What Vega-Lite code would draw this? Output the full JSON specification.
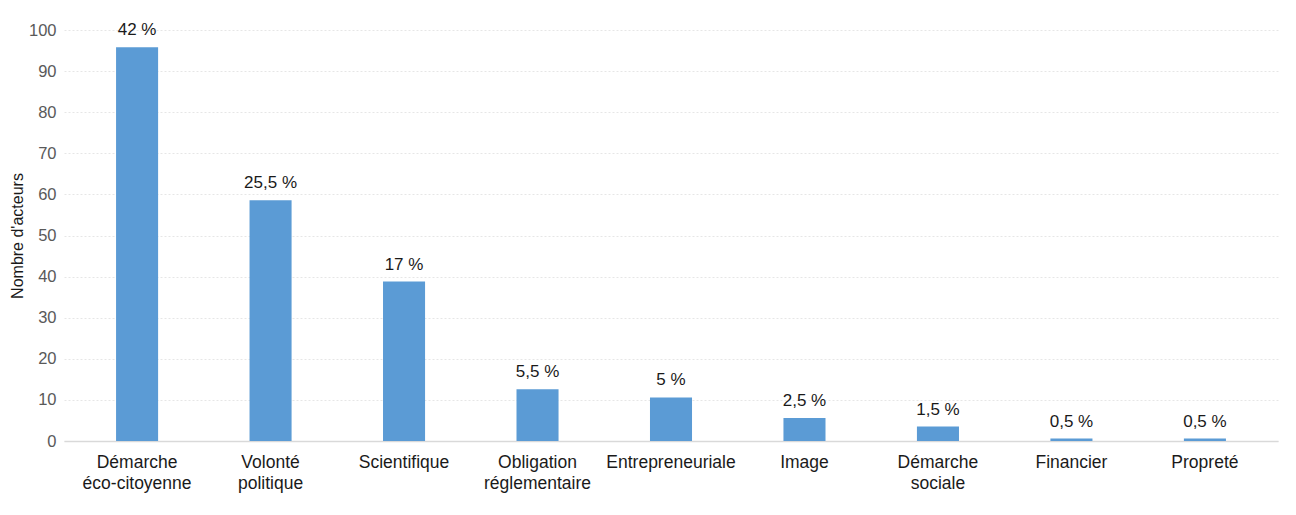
{
  "$schema": "https://vega.github.io/schema/vega-lite/v6.json",
  "autosize": {"type": "none"},
  "padding": {"left": 64, "top": 30, "right": 18, "bottom": 74},
  "width": 1214,
  "height": 411,
  "background": "white",
  "config": {
    "font": "Liberation Sans",
    "view": {"stroke": null}
  },
  "data": {
    "values": [
      {"cat": "Démarche éco-citoyenne", "n": 95.8, "pct": "42 %"},
      {"cat": "Volonté politique", "n": 58.6, "pct": "25,5 %"},
      {"cat": "Scientifique", "n": 38.8, "pct": "17 %"},
      {"cat": "Obligation réglementaire", "n": 12.6, "pct": "5,5 %"},
      {"cat": "Entrepreneuriale", "n": 10.6, "pct": "5 %"},
      {"cat": "Image", "n": 5.6, "pct": "2,5 %"},
      {"cat": "Démarche sociale", "n": 3.5, "pct": "1,5 %"},
      {"cat": "Financier", "n": 0.6, "pct": "0,5 %"},
      {"cat": "Propreté", "n": 0.6, "pct": "0,5 %"}
    ]
  },
  "encoding": {
    "x": {
      "field": "cat",
      "type": "nominal",
      "sort": null,
      "scale": {"paddingInner": 0.685, "paddingOuter": 0.39},
      "axis": {
        "title": null,
        "labelAngle": 0,
        "labelExpr": "split(datum.label, ' ')",
        "labelFontSize": 17.5,
        "labelColor": "#1a1a1a",
        "labelPadding": 12,
        "labelLineHeight": 21,
        "labelBaseline": "top",
        "ticks": false,
        "domainColor": "#d9d9d9",
        "domainWidth": 1.5,
        "grid": false
      }
    },
    "y": {
      "field": "n",
      "type": "quantitative",
      "scale": {"domain": [0, 100], "nice": false},
      "axis": {
        "title": "Nombre d'acteurs",
        "titleFontSize": 16,
        "titleFontWeight": "normal",
        "titleColor": "#1a1a1a",
        "titlePadding": 3,
        "values": [0, 10, 20, 30, 40, 50, 60, 70, 80, 90, 100],
        "labelFontSize": 16.5,
        "labelColor": "#595959",
        "labelPadding": 8,
        "ticks": false,
        "domain": false,
        "gridColor": "#e6e6e6",
        "gridDash": [2, 2],
        "gridWidth": 1
      }
    }
  },
  "layer": [
    {"mark": {"type": "bar", "color": "#5b9bd5"}},
    {
      "mark": {"type": "text", "dy": -8, "baseline": "bottom", "fontSize": 17, "color": "#1a1a1a"},
      "encoding": {"text": {"field": "pct"}}
    }
  ]
}
